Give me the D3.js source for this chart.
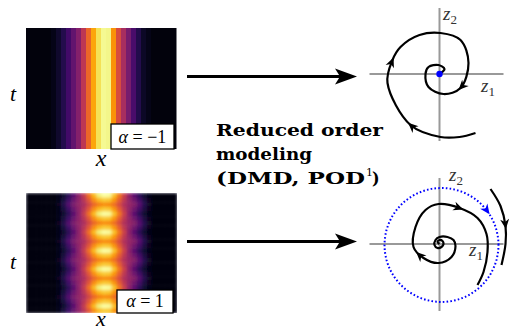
<!DOCTYPE html>
<html>
<head>
<meta charset="utf-8">
<script src="https://cdn.jsdelivr.net/npm/d3@7"></script>
<style>
  body { margin: 0; background: #fff; }
  svg { display: block; }
  svg text { font-family: "Liberation Serif", "DejaVu Serif", "Times New Roman", serif; }
  svg text.bold { font-family: "DejaVu Serif", "Liberation Serif", serif; font-weight: bold; }
</style>
</head>
<body>
<div id="chart"></div>
<script>
// top field (alpha = -1): intensity per x column, constant in t
var topProfile = [0.02, 0.02, 0.02, 0.02, 0.02, 0.04, 0.08, 0.13, 0.2, 0.28, 0.36, 0.5,
  0.66, 0.8, 0.92, 0.98, 0.97, 0.76, 0.58, 0.45, 0.33, 0.22, 0.13, 0.07, 0.04, 0.02,
  0.02, 0.02, 0.02, 0.02];
// bottom field (alpha = 1): profile at bright and dim times, plus row weights
var brightProfile = [0.02, 0.02, 0.02, 0.02, 0.02, 0.02, 0.04, 0.08, 0.15, 0.26, 0.38, 0.52,
  0.68, 0.84, 0.96, 1.0, 0.99, 0.86, 0.7, 0.54, 0.38, 0.26, 0.15, 0.08, 0.04, 0.02,
  0.02, 0.02, 0.02, 0.02];
var dimProfile = [0.02, 0.02, 0.02, 0.02, 0.02, 0.02, 0.05, 0.13, 0.24, 0.34, 0.4, 0.46,
  0.56, 0.66, 0.72, 0.75, 0.74, 0.68, 0.58, 0.47, 0.41, 0.36, 0.26, 0.14, 0.06, 0.02,
  0.02, 0.02, 0.02, 0.02];
var rowWeight = [1, 0.5, 0, 0.5, 1, 0.5, 0, 0.5, 1, 0.5, 0, 0.5, 1, 0.5, 0, 0.5,
  1, 0.5, 0, 0.5, 1, 0.5, 0, 0.5, 1, 0.5];

// phase portraits, points as [z1, z2] in the order of motion
var stableSpiral = [[36, -59], [20, -63], [1, -63], [-29, -51], [-52, -9], [-47, 14], [-39, 27],
  [-20, 39], [1, 41], [21, 34], [29, 11], [21, -14], [4, -20], [-11, -13], [-14, 0],
  [-11, 7], [-1, 9], [5, 5], [0, 0]];
var stableArrows = [[-47, 14], [-29, -51], [21, -14]];

var unstableSpiral = [[0, 0], [-2, 2], [0, 4], [3, 3], [4, 0], [2, -3], [-2, -4], [-5, -1],
  [-4, 4], [0, 7], [8, 7], [14, 4], [16, -2], [12, -13], [-1, -19], [-16, -14], [-26, -3],
  [-24, 17], [-14, 34], [-1, 40], [20, 36], [38, 26], [47, 10], [48, -8], [44, -28], [38, -41]];
var unstableArrows = [[21, 36], [-21, -10]];
var outerArc = [[51, 55], [61, 38], [66, 18], [66, 0], [62, -21]];
var outerArrows = [[66, 18]];
var limitCycleRadius = 57;
var limitArrows = [[46, 33]];

var W = 509, H = 331;
var svg = d3.select('#chart').append('svg')
  .attr('width', W).attr('height', H);

var color = d3.scaleSequential(d3.interpolateInferno).domain([0, 1]);
var defs = svg.append('defs');

// ---- top heatmap
var xTop = d3.scaleBand().domain(d3.range(topProfile.length)).range([26, 176]);
svg.append('g').selectAll('rect')
  .data(topProfile)
  .enter().append('rect')
    .attr('x', function (d, i) { return xTop(i); })
    .attr('y', 28)
    .attr('width', xTop.bandwidth() + 0.5)
    .attr('height', 121)
    .attr('fill', function (d) { return color(d); });

// ---- bottom heatmap (smoothed like an interpolated image)
var cells = [];
rowWeight.forEach(function (w, r) {
  brightProfile.forEach(function (b, c) {
    cells.push({ r: r, c: c, v: w * b + (1 - w) * dimProfile[c] });
  });
});
var xBot = d3.scaleBand().domain(d3.range(brightProfile.length)).range([26, 177]);
var yBot = d3.scaleBand().domain(d3.range(rowWeight.length)).range([193, 313]);

defs.append('clipPath').attr('id', 'botclip')
  .append('rect').attr('x', 26).attr('y', 193).attr('width', 151).attr('height', 120);
var blur = defs.append('filter').attr('id', 'soft')
  .attr('x', 0).attr('y', 0).attr('width', 1).attr('height', 1);
blur.append('feGaussianBlur').attr('stdDeviation', '1.8 1.4').attr('edgeMode', 'duplicate');

svg.append('g').attr('clip-path', 'url(#botclip)')
  .append('g').attr('filter', 'url(#soft)')
  .selectAll('rect')
  .data(cells)
  .enter().append('rect')
    .attr('x', function (d) { return xBot(d.c); })
    .attr('y', function (d) { return yBot(d.r); })
    .attr('width', xBot.bandwidth() + 0.5)
    .attr('height', yBot.bandwidth() + 0.5)
    .attr('fill', function (d) { return color(d.v); });

// ---- axis letters and alpha boxes
function italic(txt, x, y, size) {
  svg.append('text').attr('x', x).attr('y', y)
    .style('font-style', 'italic').attr('font-size', size)
    .attr('text-anchor', 'middle').text(txt);
}
italic('t', 13, 101, 22);
italic('x', 101, 166, 24);
italic('t', 13, 269, 22);
italic('x', 101, 326, 22);

function alphaBox(x, y, w, h, label) {
  svg.append('rect').attr('x', x).attr('y', y).attr('width', w).attr('height', h)
    .attr('fill', '#fff').attr('stroke', '#000').attr('stroke-width', 1.3);
  var t = svg.append('text').attr('x', x + w / 2).attr('y', y + h - 6)
    .attr('text-anchor', 'middle').attr('font-size', 18);
  t.append('tspan').style('font-style', 'italic').text('α');
  t.append('tspan').text(' = ' + label);
}
alphaBox(111, 124, 63, 25, '−1');
alphaBox(117, 290, 56, 23, '1');

// ---- big arrows
function bigArrow(y) {
  svg.append('line').attr('x1', 187).attr('x2', 342).attr('y1', y).attr('y2', y)
    .attr('stroke', '#000').attr('stroke-width', 2.8);
  svg.append('path')
    .attr('d', 'M357,' + y + ' L335,' + (y - 8) + ' L340,' + y + ' L335,' + (y + 8) + ' Z')
    .attr('fill', '#000');
}
bigArrow(76.5);
bigArrow(241.5);

// ---- middle text
function boldText(x, y, txt, len, size) {
  var t = svg.append('text').attr('class', 'bold').attr('x', x).attr('y', y)
    .attr('font-size', size).text(txt);
  if (len) t.attr('textLength', len).attr('lengthAdjust', 'spacingAndGlyphs');
  return t;
}
boldText(216, 136, 'Reduced order', 167, 16);
boldText(216, 160, 'modeling', 96, 16);
boldText(216, 184, '(DMD, POD', 149, 16);
boldText(366, 176, '1', null, 11).style('font-weight', 'normal');
boldText(372, 184, ')', null, 16);

// ---- phase portraits
function portrait(cx, cy) {
  var g = svg.append('g');
  var zx = d3.scaleLinear().domain([-70, 70]).range([cx - 70, cx + 70]);
  var zy = d3.scaleLinear().domain([-70, 70]).range([cy + 70, cy - 70]);
  g.append('line').attr('x1', zx(-70)).attr('x2', zx(64)).attr('y1', zy(0)).attr('y2', zy(0))
    .attr('stroke', '#999').attr('stroke-width', 2);
  g.append('line').attr('x1', zx(0)).attr('x2', zx(0)).attr('y1', zy(66)).attr('y2', zy(-67))
    .attr('stroke', '#999').attr('stroke-width', 2);
  return { g: g, zx: zx, zy: zy };
}

function zLabel(g, x, y, sub) {
  var t = g.append('text').attr('x', x).attr('y', y).attr('font-size', 19).attr('fill', '#333');
  t.append('tspan').style('font-style', 'italic').text('z');
  t.append('tspan').attr('font-size', 13).attr('dy', 4).text(sub);
}

function arrowHead(g, x, y, ang, fill) {
  g.append('path')
    .attr('d', 'M3,0 L-7,-4.5 L-4,0 L-7,4.5 Z')
    .attr('transform', 'translate(' + x + ',' + y + ') rotate(' + ang + ')')
    .attr('fill', fill);
}

function curveWithArrows(p, pts, arrows, stroke) {
  var line = d3.line()
    .x(function (d) { return p.zx(d[0]); })
    .y(function (d) { return p.zy(d[1]); })
    .curve(d3.curveCatmullRom.alpha(0.5));
  var path = p.g.append('path').attr('d', line(pts))
    .attr('fill', 'none').attr('stroke', stroke).attr('stroke-width', 2.2);
  var node = path.node(), L = node.getTotalLength();
  arrows.forEach(function (a) {
    var tx = p.zx(a[0]), ty = p.zy(a[1]), best = 0, bd = 1e9;
    for (var s = 0; s <= L; s += 0.5) {
      var q = node.getPointAtLength(s);
      var dd = (q.x - tx) * (q.x - tx) + (q.y - ty) * (q.y - ty);
      if (dd < bd) { bd = dd; best = s; }
    }
    var q0 = node.getPointAtLength(Math.max(0, best - 2));
    var q1 = node.getPointAtLength(Math.min(L, best + 2));
    var ang = Math.atan2(q1.y - q0.y, q1.x - q0.x) * 180 / Math.PI;
    var q = node.getPointAtLength(best);
    arrowHead(p.g, q.x, q.y, ang, stroke);
  });
}

// top: stable focus
var pTop = portrait(439.5, 74);
zLabel(pTop.g, 443, 20, '2');
zLabel(pTop.g, 481, 92, '1');
curveWithArrows(pTop, stableSpiral, stableArrows, '#000');
pTop.g.append('circle').attr('cx', pTop.zx(0)).attr('cy', pTop.zy(0)).attr('r', 3.2).attr('fill', '#0000ff');

// bottom: limit cycle
var pBot = portrait(439.5, 244);
zLabel(pBot.g, 449, 181, '2');
zLabel(pBot.g, 469, 256, '1');
var cyc = d3.range(0, 361, 5).map(function (a) {
  var r = a * Math.PI / 180;
  return [2 + limitCycleRadius * Math.cos(r), -1 + limitCycleRadius * Math.sin(r)];
});
pBot.g.append('path')
  .attr('d', d3.line()
    .x(function (d) { return pBot.zx(d[0]); })
    .y(function (d) { return pBot.zy(d[1]); })
    .curve(d3.curveLinearClosed)(cyc))
  .attr('fill', 'none').attr('stroke', '#0000ff').attr('stroke-width', 2)
  .attr('stroke-dasharray', '1.6 2.2');
(function () {
  var a = limitArrows[0];
  var ang = Math.atan2(a[1], a[0]);
  var x = pBot.zx(2 + limitCycleRadius * Math.cos(ang)), y = pBot.zy(-1 + limitCycleRadius * Math.sin(ang));
  var dir = Math.atan2(Math.cos(ang), Math.sin(ang)) * 180 / Math.PI;
  arrowHead(pBot.g, x, y, dir, '#0000ff');
})();
curveWithArrows(pBot, unstableSpiral, unstableArrows, '#000');
curveWithArrows(pBot, outerArc, outerArrows, '#000');
</script>
</body>
</html>
